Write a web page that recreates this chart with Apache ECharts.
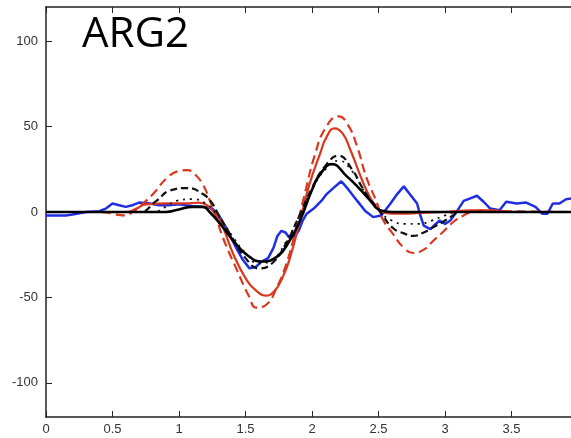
<!DOCTYPE html>
<html>
<head>
<meta charset="utf-8">
<script src="https://cdn.jsdelivr.net/npm/echarts@6/dist/echarts.min.js"></script>
<style>html,body{margin:0;padding:0;background:#fff}#c{width:571px;height:438px}</style>
</head>
<body>
<div id="c"></div>
<script>
var titleText = 'ARG2';
var xTicks = [0, 0.5, 1, 1.5, 2, 2.5, 3, 3.5];
var yTicks = [-100, -50, 0, 50, 100];

var blueX = [0, 0.15, 0.2, 0.3, 0.4, 0.45, 0.5, 0.55, 0.6, 0.65, 0.7, 0.78, 0.85, 0.92, 1.0, 1.05, 1.1, 1.18, 1.25, 1.3, 1.36, 1.43, 1.48, 1.53, 1.58, 1.62, 1.67, 1.71, 1.74, 1.77, 1.8, 1.83, 1.87, 1.9, 1.93, 1.96, 2.02, 2.07, 2.11, 2.16, 2.22, 2.27, 2.34, 2.40, 2.46, 2.52, 2.59, 2.64, 2.69, 2.74, 2.79, 2.81, 2.84, 2.89, 2.93, 2.96, 3.0, 3.04, 3.09, 3.14, 3.19, 3.24, 3.29, 3.34, 3.41, 3.46, 3.54, 3.61, 3.68, 3.73, 3.77, 3.81, 3.86, 3.91, 3.95];
var blueY = [-2, -2, -1.5, 0, 0.5, 2, 5, 4, 3, 4, 5.5, 5, 4, 4, 4.5, 4, 3.5, 3, 2, -2, -10, -21, -28, -33, -32, -29, -27, -21, -14, -11, -12, -15, -14, -11, -5, -1, 2.5, 6.5, 10.5, 14, 18, 13.5, 6.5, 0.6, -3, -2, 5, 10.5, 15, 10, 5, -1, -8, -10, -7, -5, -7, -5, 0.5, 6.5, 8, 9.5, 6, 2, 1, 6, 5, 5.5, 3, -1, -1, 5, 5, 7.5, 8];

var redDashX = [0, 0.4, 0.5, 0.58, 0.65, 0.73, 0.81, 0.91, 1.0, 1.06, 1.12, 1.18, 1.23, 1.27, 1.33, 1.43, 1.53, 1.58, 1.66, 1.73, 1.8, 1.88, 1.95, 2.02, 2.1, 2.2, 2.27, 2.34, 2.41, 2.49, 2.53, 2.61, 2.69, 2.76, 2.84, 2.91, 2.98, 3.06, 3.14, 3.2, 3.3, 3.4, 3.95];
var redDashY = [0, 0, -1, -2, 0, 5, 11, 20, 24, 24.5, 22, 16, 7, -1, -15, -33, -50, -56, -54, -45, -32, -10, 12, 33, 49, 56, 51, 38, 20, 5, -4, -13, -21, -24, -22, -17, -12, -6, -2, 0, 1, 0.5, 0];

var redX = [0, 0.6, 0.68, 0.75, 0.9, 1.05, 1.15, 1.21, 1.26, 1.31, 1.41, 1.51, 1.58, 1.65, 1.72, 1.78, 1.83, 1.91, 1.98, 2.06, 2.11, 2.17, 2.23, 2.29, 2.38, 2.44, 2.49, 2.53, 2.6, 2.7, 2.8, 3.0, 3.2, 3.35, 3.5, 3.95];
var redY = [0, 0, 2, 4.5, 5, 5, 5.5, 4, 0, -5, -25, -40, -46, -49, -46, -38, -28, -5, 16, 34, 44, 49, 46, 36, 18, 8, 2.5, 0, -1, -1, -0.5, 0, 1, 1, 0, 0];

var blackX = [0, 0.9, 1.0, 1.1, 1.18, 1.23, 1.31, 1.41, 1.51, 1.62, 1.74, 1.83, 1.91, 2.0, 2.06, 2.15, 2.26, 2.34, 2.44, 2.51, 2.6, 3.95];
var blackY = [0, 0, 1.5, 3, 3, 0, -7, -17, -25, -29, -26, -17, -5, 13, 22, 28, 21, 15, 6.5, 1, 0, 0];

var blackDashX = [0, 0.7, 0.83, 0.93, 1.06, 1.18, 1.25, 1.3, 1.4, 1.5, 1.6, 1.7, 1.8, 1.9, 2.0, 2.1, 2.2, 2.3, 2.38, 2.44, 2.49, 2.53, 2.61, 2.69, 2.76, 2.84, 2.91, 2.98, 3.06, 3.11, 3.95];
var blackDashY = [0, 0, 6.5, 12.5, 14, 10.5, 5, -2, -15, -27, -33, -30, -19, -3, 14, 27, 33, 25, 14, 7, 2.5, -2, -9.5, -12.5, -14, -12, -9, -6, -2, 0, 0];

var blackDotX = [0, 0.8, 0.9, 0.98, 1.1, 1.2, 1.27, 1.4, 1.5, 1.6, 1.7, 1.8, 1.9, 2.0, 2.1, 2.2, 2.3, 2.4, 2.5, 2.6, 2.7, 2.8, 2.9, 3.0, 3.1, 3.95];
var blackDotY = [0, 0, 3, 6.5, 7.5, 5, 0, -14, -24, -30, -28, -18, -3, 13, 25, 30, 24, 11, 1, -5, -7, -7, -5, -2, 0, 0];

function pairs(xs, ys) { return xs.map(function (x, i) { return [x, ys[i]]; }); }

var chart = echarts.init(document.getElementById('c'), null, { renderer: 'canvas' });
var labelStyle = { color: '#333', fontSize: 13, fontFamily: 'Liberation Sans, Arial, sans-serif' };
chart.setOption({
  animation: false,
  backgroundColor: '#fff',
  title: {
    text: titleText, left: 77, top: 9,
    textStyle: { fontSize: 42, fontWeight: 'normal', color: '#000', fontFamily: 'Open Sans, sans-serif' }
  },
  grid: { left: 46, right: 0, top: 7, bottom: 21, outerBoundsMode: 'none', containLabel: false },
  xAxis: [{
    type: 'value', min: 0, max: 3.947, interval: 0.5, position: 'bottom',
    axisLine: { show: true, onZero: false, lineStyle: { color: '#222', width: 1.5 } },
    axisTick: { show: true, inside: true, length: 6, lineStyle: { color: '#222' }, customValues: xTicks },
    axisLabel: Object.assign({ margin: 6, customValues: xTicks, formatter: function (v) { return String(v); } }, labelStyle),
    splitLine: { show: false }
  }, {
    type: 'value', min: 0, max: 3.947, interval: 0.5, position: 'top',
    axisLine: { show: true, onZero: false, lineStyle: { color: '#222', width: 1.5 } },
    axisTick: { show: true, inside: true, length: 6, lineStyle: { color: '#222' }, customValues: xTicks },
    axisLabel: { show: false },
    splitLine: { show: false }
  }],
  yAxis: {
    type: 'value', min: -120, max: 120,
    axisLine: { show: true, onZero: false, lineStyle: { color: '#222', width: 1.5 } },
    axisTick: { show: true, inside: true, length: 6, lineStyle: { color: '#222' }, customValues: yTicks },
    axisLabel: Object.assign({ margin: 8, customValues: yTicks }, labelStyle),
    splitLine: { show: false }
  },
  series: [
    { type: 'line', data: pairs(blueX, blueY), showSymbol: false, smooth: false, lineStyle: { color: '#1f2ee0', width: 2.5 }, z: 2 },
    { type: 'line', data: pairs(redDashX, redDashY), showSymbol: false, smooth: true, lineStyle: { color: '#d9381e', width: 2.2, type: [9, 5] }, z: 3 },
    { type: 'line', data: pairs(redX, redY), showSymbol: false, smooth: true, lineStyle: { color: '#d9381e', width: 2.2 }, z: 3 },
    { type: 'line', data: pairs(blackDotX, blackDotY), showSymbol: false, smooth: true, lineStyle: { color: '#111', width: 1.8, type: [2, 5] }, z: 4 },
    { type: 'line', data: pairs(blackDashX, blackDashY), showSymbol: false, smooth: true, lineStyle: { color: '#111', width: 2.2, type: [7, 4] }, z: 4 },
    { type: 'line', data: pairs(blackX, blackY), showSymbol: false, smooth: true, lineStyle: { color: '#000', width: 2.6 }, z: 5 }
  ]
});
</script>
</body>
</html>
